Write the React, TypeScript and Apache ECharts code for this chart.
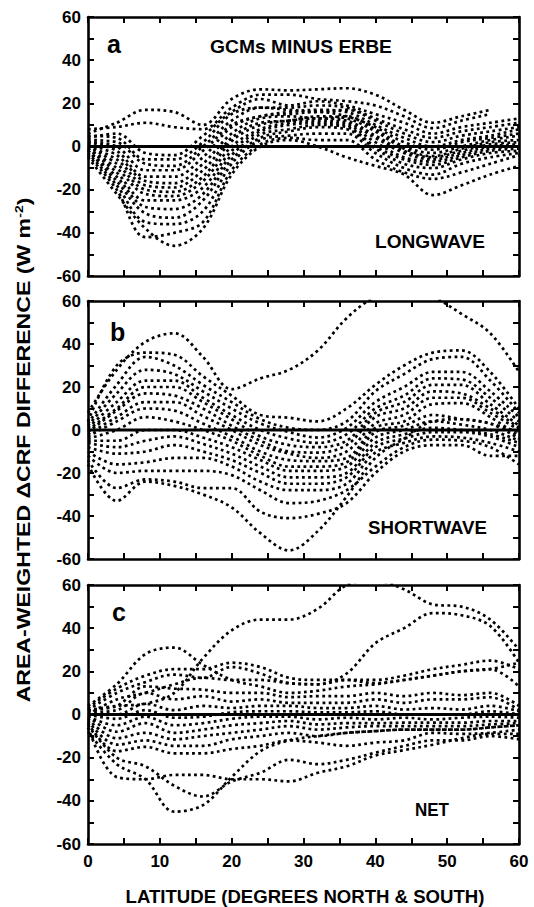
import React, { useEffect, useRef } from "react";
import * as echarts from "echarts";

// Latitude sample points (degrees, north & south)
const LAT = [0, 4, 8, 12, 16, 20, 24, 28, 32, 36, 40, 44, 48, 52, 56, 60];
const Y_TICK_LABELS = ["-60", "-40", "-20", "0", "20", "40", "60"];
const X_TICK_LABELS = ["0", "10", "20", "30", "40", "50", "60"];

// (a) Longwave: GCMs minus ERBE, one row per model (null = line ends)
const LONGWAVE: (number | null)[][] = [
  [6, 11, 17, 16, 10, 22, 26.5, 26, 26.5, 27, 24, 17, 11, 14, 17, null],
  [8, 9, 11, 9, 8, 18, 24, 24, 22, 21, 19, 14, 8.5, 12, 15, null],
  [4, 6, -3, -4, 5, 16, 22, 19, 21, 19, 15, 11, 6, 9, 11, 13],
  [5, 4, -6, -6, 2, 15, 18, 18, 19, 18, 13, 8, 4, 7, 9, 11],
  [3, 2, -8, -9, 0, 12, 18, 17, 16, 17, 12, 6, 2, 5, 7, 9],
  [2, 0, -11, -11, -2, 10, 14, 16, 17, 16, 10, 4, 0, 3, 5, 8],
  [2, -2, -14, -14, -5, 9, 14, 15, 16, 14, 9, 2, -1.5, 2, 4, 6],
  [1, -4, -16, -17, -8, 6, 13, 14, 13, 14, 8, 0, -3, 0, 3, 5],
  [0, -6, -18, -19, -11, 4, 11, 12, 14, 13, 7, -1, -4.5, -1, 2, 3],
  [0, -8, -20, -21, -14, 2.5, 10, 12, 13, 12, 5, -2, -5, -2, 1, 2],
  [-1, -10, -22, -23, -16, 0, 8, 11, 12, 11, 4, -3, -6, -3, 0, 1],
  [-1, -12, -25, -25, -19, -2, 7, 10, 11, 10, 2, -5, -7, -4, -1, 0],
  [-2, -14, -28, -29, -22, -4, 5.6, 8, 10, 9, 0, -6, -8.5, -5, -2, -1],
  [-2, -16, -31, -33, -25, -6, 4, 7, 9, 8, -1, -8, -10, -6, -3, -2],
  [-3, -18, -35, -36, -30, -8, 3, 5, 6, 6, -3, -10, -13, -8, -5, -3],
  [-4, -20, -42, -40, -35, -11, 1, 4, 3, 3, -6, -12, -15, -12, -8, -4],
  [-5, -22, -38, -46, -38, -13, 0, 3, 0, -5, -9, -13, -22.5, -18, -13, -9],
];

// (b) Shortwave
const SHORTWAVE: (number | null)[][] = [
  [8, 28, 41, 45, 34, 19, 24, 28, 37, 52, 62, 66, 62, 54, 45, 27],
  [4, 30, 36, 35, 25, 16, 7, 5.7, 4, 10, 21, 30, 36, 37, 27, 10],
  [3, 21, 34, 30, 21, 13, 5, 1, 0, 4, 18, 26, 33, 34, 23, 8],
  [2, 17, 28, 26, 18, 10, 3, -1, -3.5, 1, 13, 20, 27, 27, 18, 6],
  [1, 13, 23, 23, 15, 7, 0, -4, -6, -2, 10, 16, 24, 23.5, 15, 4],
  [0, 10, 20, 20, 13, 5, -3, -7, -8, -5, 8, 13, 21, 21, 12, 2],
  [-1, 9, 17, 16, 10, 2, -5, -10, -10.5, -7, 6, 10, 18, 17, 10, 1],
  [-2, 6, 13, 13, 6.5, 0, -7, -11, -13, -10, 3, 7, 15, 15, 8, 0],
  [-3, 4, 10, 9, 3, -3, -10, -14, -14.5, -13, 1, 4, 12, 12.5, 6, -3],
  [-4, 0, 6, 4, 0, -5, -12, -17, -17, -15, -1, 2, 7, 5, 3, -4],
  [-5, -5, 0, 0, -3.5, -8, -14, -19, -19, -17, -3.5, 0, 4, 2.5, 0, -5],
  [-6, -8, -5, -3, -6.5, -11, -17, -22, -22, -20, -6, -2, 1, 0, -2, -6],
  [-8, -11, -10, -7, -10, -14, -20, -25, -25, -22, -8, -4, -1, -1, -3, -8],
  [-10, -16, -15, -13, -13, -17, -24, -28, -28, -25, -10.5, -6, -3, -3.5, -6, -10],
  [-12, -20, -19, -19, -19, -21, -28, -34, -33, -28, -17, -8, -4.5, -5, -8, -16],
  [-14, -27, -23, -24, -27, -27, -38, -41, -39, -34, -20, -10, -7, -7, -12, -12],
  [-16, -33, -24, -26, -30, -36, -48, -56, -47, -31, -13, -4, 4, 5, 3, -1],
];

// (c) Net
const NET: (number | null)[][] = [
  [2, 4, 5, 10, 26, 39, 44, 44, 49, 60, 62, 58, 51, 50, 44, 30],
  [0, 7, 10, 14, 17, 16, 16, 14.5, 14, 19, 33, 40, 47, 46, 41, 24],
  [4, 14, 28, 31, 23, 16, 13, 10, 11, 13, 14, 16, 18, 20, 21, 13],
  [3, 12, 18, 21, 21, 24, 22, 17, 16, 16, 16, 18, 21, 23, 25, 21],
  [2, 10, 15, 18.5, 17, 22, 19, 14.5, 14, 16, 14.5, 16, 18, 20, 21, 24],
  [2, 4, 13, 12, 11.5, 10, 10, 8, 8.5, 8.5, 10, 8.5, 10, 9, 10, 4],
  [1, 2, 10, 7, 8.5, 6, 7, 5.4, 5.4, 5.4, 7, 5.4, 7, 7, 8, 2],
  [0, 0, 5, 2, 4, 3, 4, 4, 3, 3, 4, 2.3, 3, 2.3, 4, 1.5],
  [0, -2, 2, -1.5, -1, 1, 1.5, 1.5, 1, 1, 1.5, 0, 0, 0, 1.5, 0],
  [-1, -5, -1, -5, -4, -2, -1, -1, -2.3, -1.5, -2.3, -1.5, -2.3, -1.5, -1, -1.5],
  [-1, -8, -4, -8.5, -7, -5, -4, -3, -4.6, -4, -4, -3.8, -3.8, -3.8, -3, -3],
  [-2, -11, -8.5, -11.5, -10, -8.5, -7, -5.4, -7, -6, -5.4, -5.4, -5.4, -5.4, -4.6, -4],
  [-3, -14, -12, -14.5, -14.5, -11.5, -10, -8.5, -10, -8.5, -7.7, -7, -7, -7, -6, -5],
  [-4, -17, -15, -18, -18, -16, -14.5, -12, -13, -14.5, -13, -12, -8.5, -9, -8.5, -7],
  [-5, -20, -24, -33, -38, -31, -27, -21, -23, -21, -17.7, -14.6, -12, -12, -10, -11.5],
  [-6, -29, -30, -28, -28, -30, -30, -31, -27, -24, -19, -16.5, -14, -11, -9, -9],
  [-8, -23, -30, -45, -42, -29, -17, -12, -10, -8.5, -7.7, -7, -7, -7, -6, -5],
];

const PANEL_DATA = [LONGWAVE, SHORTWAVE, NET];
const PANEL_LETTERS = ["a", "b", "c"];
const PANEL_NAMES = ["LONGWAVE", "SHORTWAVE", "NET"];
const TITLE = "GCMs MINUS ERBE";
const X_NAME = "LATITUDE (DEGREES NORTH & SOUTH)";
const Y_NAME_MAIN = "AREA-WEIGHTED \u0394CRF DIFFERENCE (W m";
const Y_NAME_SUP = "-2";

const FONT = '"Liberation Sans", Arial, Helvetica, sans-serif';
const GRID_LEFT = 88;
const GRID_W = 431;
const PANEL_TOP = [17, 301, 585];
const PANEL_H = [259, 258, 259];

function measure(text: string, size: number) {
  const c = document.createElement("canvas").getContext("2d");
  if (!c) return text.length * size * 0.6;
  c.font = `bold ${size}px ${FONT}`;
  return c.measureText(text).width;
}

function label(text: string, x: number, y: number, size: number, target?: number, align = "center") {
  const sx = target ? target / measure(text, size) : 1;
  return {
    type: "text",
    x,
    y,
    scaleX: sx,
    silent: true,
    style: {
      text,
      fill: "#000",
      font: `bold ${size}px ${FONT}`,
      textAlign: align,
      align,
      textVerticalAlign: "middle",
      verticalAlign: "middle",
    },
  };
}

export default function App() {
  const ref = useRef<HTMLDivElement>(null);

  useEffect(() => {
    if (!ref.current) return;
    const chart = echarts.init(ref.current, undefined, { renderer: "svg" });

    const grids: any[] = [];
    const xAxes: any[] = [];
    const yAxes: any[] = [];
    const series: any[] = [];

    const axisLine = { show: true, onZero: false, lineStyle: { color: "#000", width: 2.6 } };
    const axisTick = { show: true, inside: true, length: 6, lineStyle: { color: "#000", width: 2 } };

    for (let p = 0; p < 3; p++) {
      grids.push({ left: GRID_LEFT, width: GRID_W, top: PANEL_TOP[p], height: PANEL_H[p] });
      const isBottom = p === 2;
      ["bottom", "top"].forEach((pos, k) => {
        xAxes.push({
          type: "value",
          gridIndex: p,
          position: pos,
          min: 0,
          max: 60,
          interval: 5,
          axisLine,
          axisTick,
          splitLine: { show: false },
          axisLabel: {
            show: isBottom && k === 0,
            color: "#000",
            fontSize: 17,
            fontWeight: "bold",
            fontFamily: FONT,
            margin: 9,
            formatter: (v: number) => (X_TICK_LABELS.includes(String(v)) ? String(v) : ""),
          },
        });
      });
      ["left", "right"].forEach((pos, k) => {
        yAxes.push({
          type: "value",
          gridIndex: p,
          position: pos,
          min: -60,
          max: 60,
          interval: 10,
          axisLine,
          axisTick,
          splitLine: { show: false },
          axisLabel: {
            show: k === 0,
            color: "#000",
            fontSize: 17,
            fontWeight: "bold",
            fontFamily: FONT,
            margin: 7,
            formatter: (v: number) => (Y_TICK_LABELS.includes(String(v)) ? String(v) : ""),
          },
        });
      });

      PANEL_DATA[p].forEach((row) => {
        const data = LAT.map((x, i) => [x, row[i]]).filter((d) => d[1] !== null);
        series.push({
          type: "line",
          xAxisIndex: 2 * p,
          yAxisIndex: 2 * p,
          data,
          smooth: 0.35,
          showSymbol: false,
          silent: true,
          clip: true,
          lineStyle: { color: "#000", width: 2.7, type: [2.8, 3.4], cap: "butt" },
          z: 2,
        });
      });
      series.push({
        type: "line",
        xAxisIndex: 2 * p,
        yAxisIndex: 2 * p,
        data: [
          [0, 0],
          [60, 0],
        ],
        showSymbol: false,
        silent: true,
        lineStyle: { color: "#000", width: 3, type: "solid" },
        z: 3,
      });
    }

    const supSize = 11;
    const yMainW = measure(Y_NAME_MAIN + ")", 18) + measure(Y_NAME_SUP, supSize);
    const yScale = 505 / yMainW;

    const graphic: any[] = [
      label(PANEL_LETTERS[0], 107, 44, 25, undefined, "left"),
      label(PANEL_LETTERS[1], 110, 332, 25, undefined, "left"),
      label(PANEL_LETTERS[2], 112, 612, 25, undefined, "left"),
      label(TITLE, 301, 47, 18, 182),
      label(PANEL_NAMES[0], 430, 241.5, 18, 110),
      label(PANEL_NAMES[1], 427.5, 528, 18, 119),
      label(PANEL_NAMES[2], 432, 810, 18, 34),
      label(X_NAME, 305, 897, 18, 359),
      {
        type: "text",
        x: 23,
        y: 450,
        rotation: Math.PI / 2,
        scaleX: yScale,
        silent: true,
        style: {
          text: Y_NAME_MAIN + "{sup|" + Y_NAME_SUP + "})",
          fill: "#000",
          font: `bold 18px ${FONT}`,
          textAlign: "center",
          align: "center",
          textVerticalAlign: "middle",
          verticalAlign: "middle",
          rich: {
            sup: {
              fontSize: supSize,
              fontWeight: "bold",
              fontFamily: FONT,
              fill: "#000",
              verticalAlign: "top",
            },
          },
        },
      },
    ];

    chart.setOption({
      animation: false,
      backgroundColor: "#fff",
      grid: grids,
      xAxis: xAxes,
      yAxis: yAxes,
      series,
      graphic,
    });

    return () => chart.dispose();
  }, []);

  return (
    <div
      ref={ref}
      style={{ position: "fixed", left: 0, top: 0, width: 534, height: 907, background: "#fff" }}
    />
  );
}
